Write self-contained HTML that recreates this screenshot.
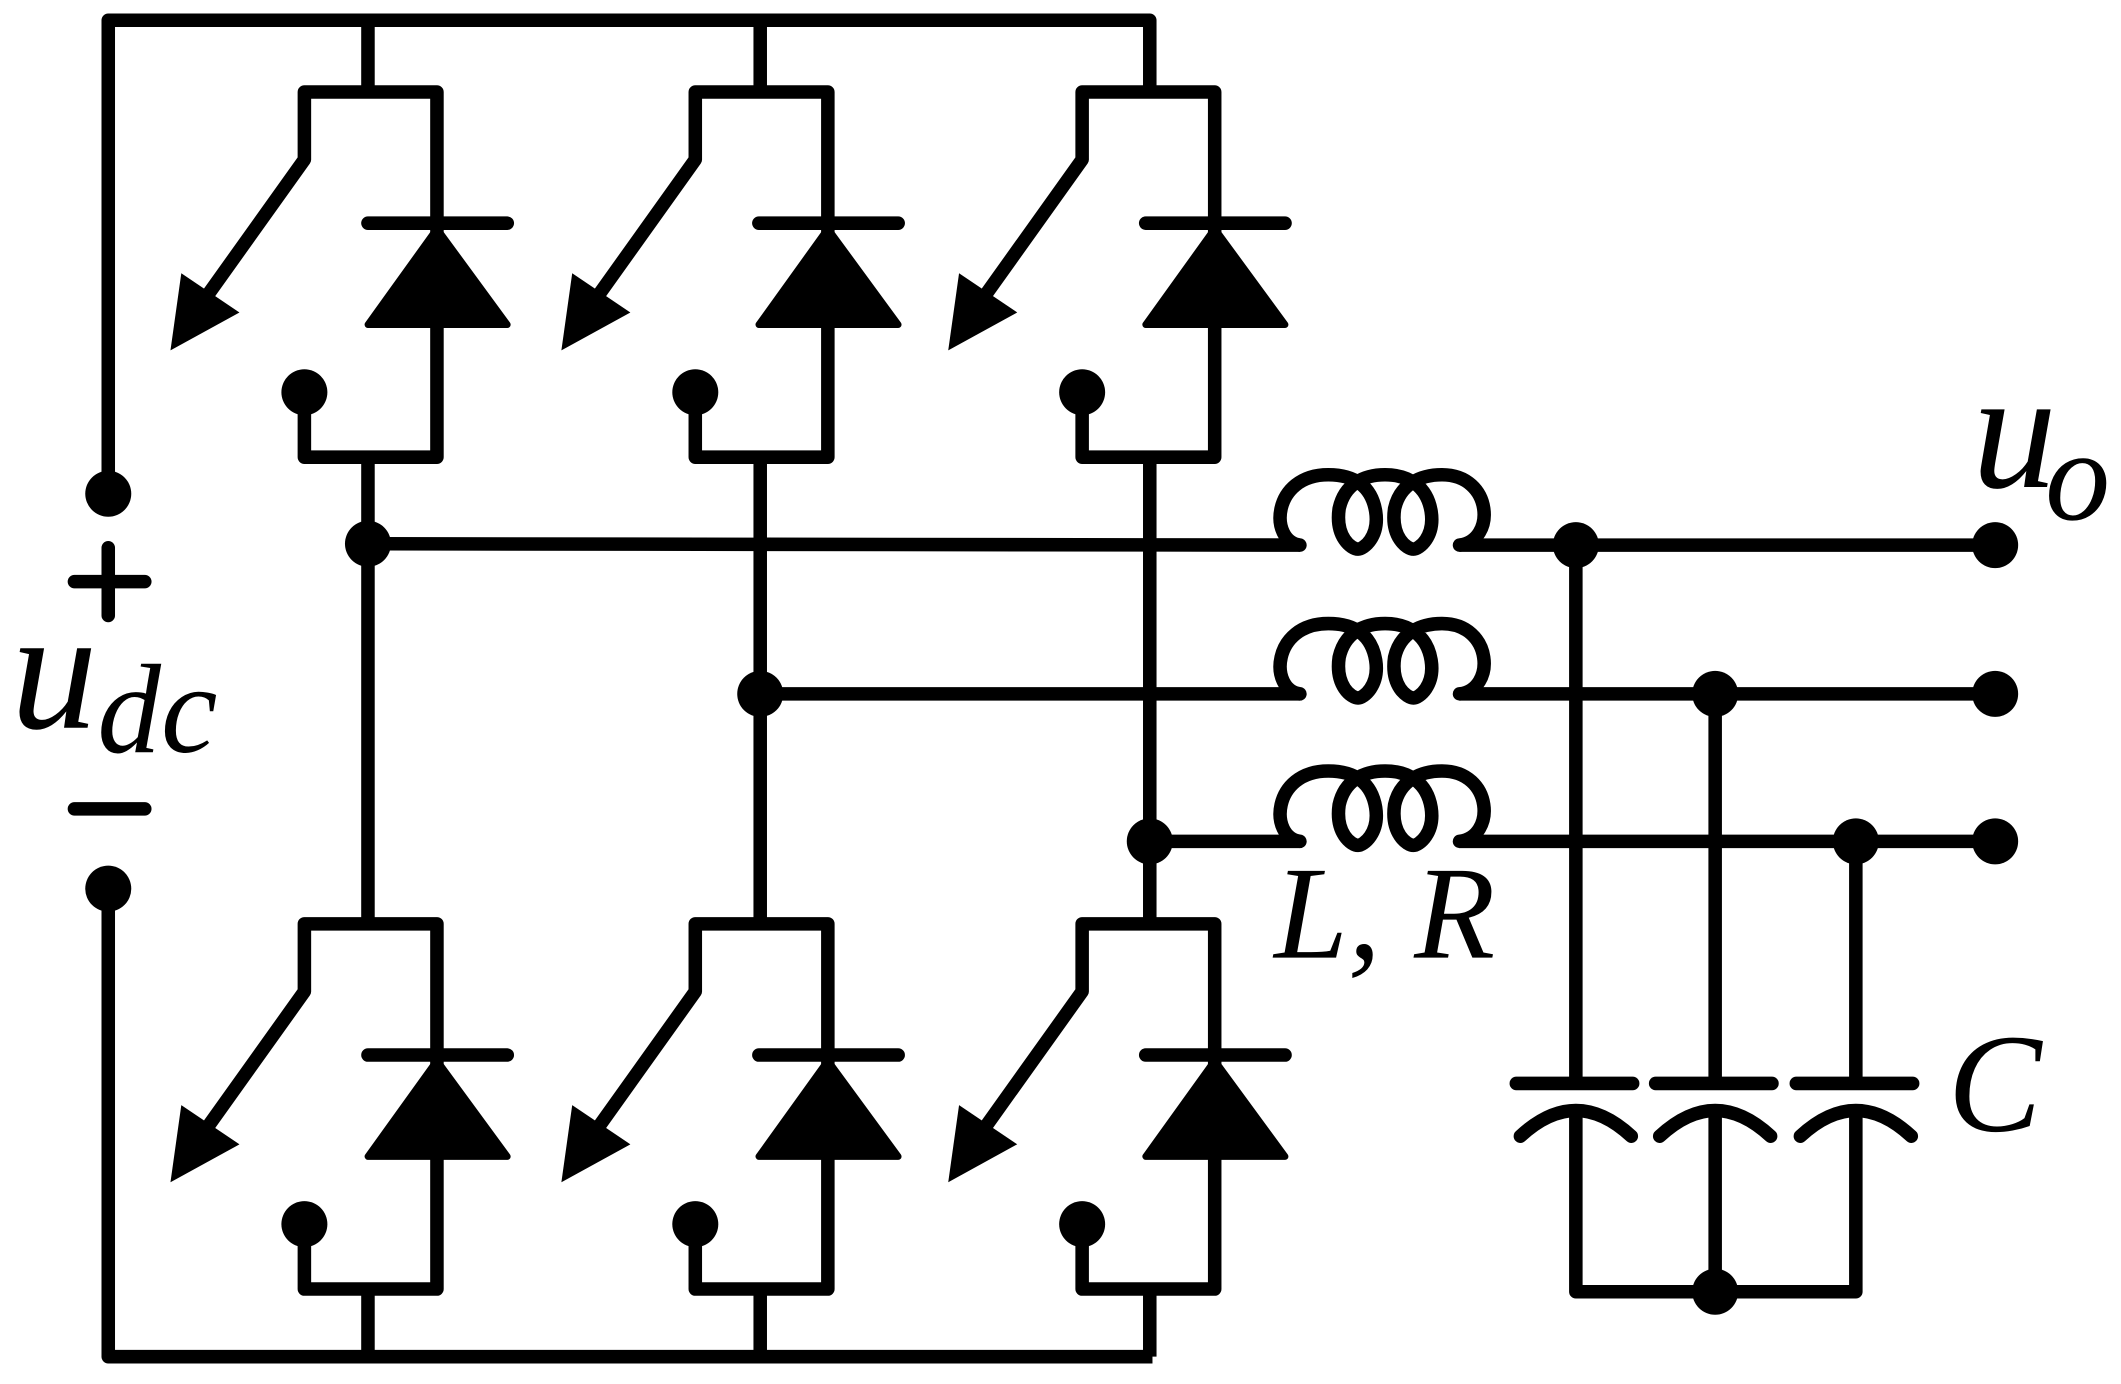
<!DOCTYPE html>
<html><head><meta charset="utf-8"><style>html,body{margin:0;padding:0;background:#fff;}svg{display:block}</style></head>
<body>
<svg width="2121" height="1384" viewBox="0 0 1568 1023.2" xmlns="http://www.w3.org/2000/svg">
<defs>
<g id="cell" stroke="#000" stroke-width="10" fill="none" stroke-linejoin="round" stroke-linecap="round">
  <polyline points="225,290 225,338 323,338 323,68 225,68 225,118 155,216"/>
  <polygon points="126,259 134,202 177,231" fill="#000" stroke="none"/>
  <line x1="272" y1="165" x2="375" y2="165"/>
  <polygon points="323,169 272,240 375,240" fill="#000" stroke-width="5"/>
  <circle cx="225" cy="290" r="17" fill="#000" stroke="none"/>
</g>
<path id="coil" fill="none" stroke="#000" stroke-width="10" stroke-linecap="round" d="M961,403 C938,400 940,351 982,351 C1002,351 1014,360 1017,378 C1020,397 1008,406 1004,406 C999,406 987,397 990,376 C994,358 1008,351 1024,351 C1042,351 1055,360 1058,378 C1061,397 1049,406 1045,406 C1040,406 1028,397 1031,376 C1035,358 1050,351 1066,351 C1104,351 1106,400 1079,403"/>
<g id="cap" fill="none" stroke="#000" stroke-width="10" stroke-linecap="round">
  <line x1="1121" y1="801" x2="1207" y2="801"/>
  <path d="M1124,840 Q1165,802 1206,840"/>
</g>
</defs>
<g stroke="#000" stroke-width="10" fill="none" stroke-linejoin="round" stroke-linecap="butt">
  <polyline points="80,365 80,15 850,15 850,68"/>
  <line x1="272" y1="15" x2="272" y2="68"/>
  <line x1="562" y1="15" x2="562" y2="68"/>
  <polyline points="80,657 80,1003 852,1003"/>
  <line x1="272" y1="953" x2="272" y2="1003"/>
  <line x1="562" y1="953" x2="562" y2="1003"/>
  <line x1="850" y1="953" x2="850" y2="1003"/>
  <line x1="272" y1="338" x2="272" y2="683"/>
  <line x1="562" y1="338" x2="562" y2="683"/>
  <line x1="850" y1="338" x2="850" y2="683"/>
  <line x1="272" y1="402" x2="961" y2="403"/>
  <line x1="1079" y1="403" x2="1475" y2="403"/>
  <line x1="562" y1="513" x2="961" y2="513"/>
  <line x1="1079" y1="513" x2="1475" y2="513"/>
  <line x1="850" y1="622" x2="961" y2="622"/>
  <line x1="1079" y1="622" x2="1475" y2="622"/>
  <line x1="1165" y1="403" x2="1165" y2="801"/>
  <line x1="1268" y1="513" x2="1268" y2="801"/>
  <line x1="1372" y1="622" x2="1372" y2="801"/>
  <polyline points="1165,822 1165,955 1372,955 1372,822"/>
  <line x1="1268" y1="822" x2="1268" y2="955"/>
  <line x1="55" y1="430" x2="107" y2="430" stroke-linecap="round"/>
  <line x1="80" y1="405" x2="80" y2="455" stroke-linecap="round"/>
  <line x1="55" y1="598" x2="107" y2="598" stroke-linecap="round"/>
</g>
<use href="#cell"/>
<use href="#cell" transform="translate(289,0)"/>
<use href="#cell" transform="translate(575,0)"/>
<use href="#cell" transform="translate(0,615)"/>
<use href="#cell" transform="translate(289,615)"/>
<use href="#cell" transform="translate(575,615)"/>
<use href="#coil"/>
<use href="#coil" transform="translate(0,110)"/>
<use href="#coil" transform="translate(0,219)"/>
<use href="#cap"/>
<use href="#cap" transform="translate(103,0)"/>
<use href="#cap" transform="translate(207,0)"/>
<g fill="#000">
  <circle cx="80" cy="365" r="17"/>
  <circle cx="80" cy="657" r="17"/>
  <circle cx="272" cy="402" r="17"/>
  <circle cx="562" cy="513" r="17"/>
  <circle cx="850" cy="622" r="17"/>
  <circle cx="1165" cy="403" r="17"/>
  <circle cx="1268" cy="513" r="17"/>
  <circle cx="1372" cy="622" r="17"/>
  <circle cx="1475" cy="403" r="17"/>
  <circle cx="1475" cy="513" r="17"/>
  <circle cx="1475" cy="622" r="17"/>
  <circle cx="1268" cy="955" r="17"/>
</g>
<g font-family="'Liberation Serif', serif" font-style="italic" fill="#000">
  <text x="8" y="538" font-size="128">u</text>
  <text x="72" y="556" font-size="94">dc</text>
  <text x="1458" y="360" font-size="125">u</text>
  <text x="1512" y="384" font-size="96">o</text>
  <text x="942" y="708" font-size="98">L, R</text>
  <text x="1440" y="836" font-size="104">C</text>
</g>
</svg>
</body></html>
